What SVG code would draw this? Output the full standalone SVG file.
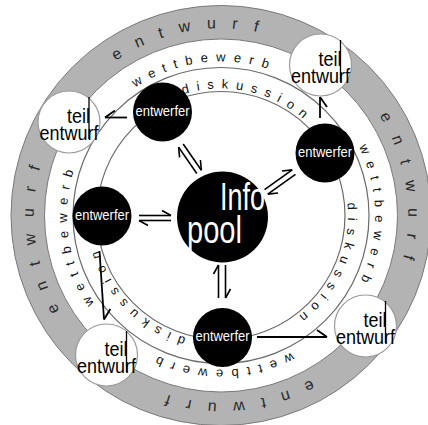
<svg xmlns="http://www.w3.org/2000/svg" width="428" height="425" viewBox="0 0 428 425">
<style>
.ring{font-family:"Liberation Sans",Arial,sans-serif;fill:#111}
.ew{font-size:16px;letter-spacing:16px;fill:#2a2a2a}
.wb{font-size:13px;letter-spacing:8px}
.dk{font-size:13px;letter-spacing:7.5px}
.line{fill:none;stroke:#6a6a6a;stroke-width:1.2}
.ent circle{fill:#000}
.ent text{font-family:"Liberation Sans",Arial,sans-serif;font-size:14px;fill:#fff;text-anchor:middle}
.teil circle{fill:#fff;stroke:#9a9a9a;stroke-width:1.2}
.teil text{font-family:"Liberation Sans",Arial,sans-serif;font-size:20px;fill:#000}
.teil line{stroke:#000;stroke-width:1.3}
.pair{fill:none;stroke:#000;stroke-width:1.6;marker-end:url(#hl)}
.single{fill:none;stroke:#000;stroke-width:1.8}
</style>
<defs>
<path id="pE" d="M408,215.5 A187,187 0 0 1 34,215.5 A187,187 0 0 1 408,215.5 A187,187 0 0 1 34,215.5 A187,187 0 0 1 408,215.5"/>
<path id="pW" d="M375,215.5 A154,154 0 0 1 67,215.5 A154,154 0 0 1 375,215.5 A154,154 0 0 1 67,215.5 A154,154 0 0 1 375,215.5"/>
<path id="pD" d="M348,215.5 A127,127 0 0 1 94,215.5 A127,127 0 0 1 348,215.5 A127,127 0 0 1 94,215.5 A127,127 0 0 1 348,215.5"/>
<marker id="hl" markerUnits="userSpaceOnUse" orient="auto" overflow="visible" markerWidth="1" markerHeight="1"><path d="M0,0 L-9,-5" fill="none" stroke="#000" stroke-width="1.6"/></marker>
<marker id="sl" markerUnits="userSpaceOnUse" orient="auto" overflow="visible" markerWidth="1" markerHeight="1"><path d="M0,0 L-10,-7" fill="none" stroke="#000" stroke-width="1.8"/></marker>
<marker id="sr" markerUnits="userSpaceOnUse" orient="auto" overflow="visible" markerWidth="1" markerHeight="1"><path d="M0,0 L-10,7" fill="none" stroke="#000" stroke-width="1.8"/></marker>
</defs>
<g id="rings">
<circle cx="221" cy="215.5" r="210" fill="#b3b3b3" stroke="#7a7a7a" stroke-width="1"/>
<circle cx="221" cy="215.5" r="176.5" fill="#fff" stroke="#7a7a7a" stroke-width="1"/>
<circle class="line" cx="221" cy="215.5" r="148"/>
<circle class="line" cx="221" cy="215.5" r="124"/>
<text class="ring ew"><textPath href="#pE" startOffset="768.9">entwurf</textPath></text>
<text class="ring ew"><textPath href="#pE" startOffset="1069.2">entwurf</textPath></text>
<text class="ring ew"><textPath href="#pE" startOffset="199.7">entwurf</textPath></text>
<text class="ring ew"><textPath href="#pE" startOffset="487.6">entwurf</textPath></text>
<text class="ring wb"><textPath href="#pW" startOffset="634.2">wettbewerb</textPath></text>
<text class="ring wb"><textPath href="#pW" startOffset="895.7">wettbewerb</textPath></text>
<text class="ring wb"><textPath href="#pW" startOffset="168.4">wettbewerb</textPath></text>
<text class="ring wb"><textPath href="#pW" startOffset="390.1">wettbewerb</textPath></text>
<text class="ring dk"><textPath href="#pD" startOffset="559.4">diskussion</textPath></text>
<text class="ring dk"><textPath href="#pD" startOffset="784.8">diskussion</textPath></text>
<text class="ring dk"><textPath href="#pD" startOffset="234.9">diskussion</textPath></text>
</g>
<g id="connectors">
<path class="pair" d="M183.2,143.95 L201.4,170.25"/>
<path class="pair" d="M196.8,173.45 L178.6,147.15"/>
<path class="pair" d="M295.47,174.4 L267.79,194.16"/>
<path class="pair" d="M264.53,189.6 L292.21,169.84"/>
<path class="pair" d="M139,215.5 L171,215.5"/>
<path class="pair" d="M171,220.5 L139,220.5"/>
<path class="pair" d="M218.5,298 L218.5,265"/>
<path class="pair" d="M225.5,265 L225.5,298"/>
<path class="single" d="M127,117.5 L105,117.5" marker-end="url(#sr)"/>
<path class="single" d="M320,118 L320,97" marker-end="url(#sr)"/>
<path class="single" d="M99.5,251 L104,319.5" marker-end="url(#sl)"/>
<path class="single" d="M257,337 L327,337" marker-end="url(#sl)"/>
</g>
<g id="teil-a" class="teil">
<circle cx="69" cy="122" r="31"/>
<text x="67" y="123" textLength="23" lengthAdjust="spacingAndGlyphs">teil</text>
<text x="39.5" y="139.5" textLength="59" lengthAdjust="spacingAndGlyphs">entwurf</text>
<line x1="89" y1="97" x2="89" y2="139"/>
</g>
<g id="teil-b" class="teil">
<circle cx="320.5" cy="65" r="31"/>
<text x="318.5" y="66" textLength="23" lengthAdjust="spacingAndGlyphs">teil</text>
<text x="291" y="82.5" textLength="59" lengthAdjust="spacingAndGlyphs">entwurf</text>
<line x1="340.5" y1="40" x2="340.5" y2="82"/>
</g>
<g id="teil-c" class="teil">
<circle cx="106.5" cy="355" r="31"/>
<text x="104.5" y="356" textLength="23" lengthAdjust="spacingAndGlyphs">teil</text>
<text x="77" y="372.5" textLength="59" lengthAdjust="spacingAndGlyphs">entwurf</text>
<line x1="126.5" y1="331" x2="126.5" y2="372"/>
</g>
<g id="teil-d" class="teil">
<circle cx="365.5" cy="326" r="31"/>
<text x="363.5" y="327" textLength="23" lengthAdjust="spacingAndGlyphs">teil</text>
<text x="336" y="343.5" textLength="59" lengthAdjust="spacingAndGlyphs">entwurf</text>
<line x1="385.5" y1="301" x2="385.5" y2="343"/>
</g>
<g id="entwerfer-1" class="ent">
<circle cx="162.5" cy="112" r="29.5"/>
<text x="162.5" y="116" textLength="54" lengthAdjust="spacingAndGlyphs">entwerfer</text>
</g>
<g id="entwerfer-2" class="ent">
<circle cx="325" cy="153" r="29.5"/>
<text x="325" y="157" textLength="54" lengthAdjust="spacingAndGlyphs">entwerfer</text>
</g>
<g id="entwerfer-3" class="ent">
<circle cx="102" cy="216" r="29.5"/>
<text x="102" y="220" textLength="54" lengthAdjust="spacingAndGlyphs">entwerfer</text>
</g>
<g id="entwerfer-4" class="ent">
<circle cx="222.5" cy="337.5" r="29.5"/>
<text x="222.5" y="341" textLength="54" lengthAdjust="spacingAndGlyphs">entwerfer</text>
</g>
<g id="infopool">
<circle cx="222.5" cy="217" r="45.5" fill="#000"/>
<text x="220" y="210" font-family="Liberation Sans, Arial, sans-serif" font-size="38" fill="#fff" textLength="45" lengthAdjust="spacingAndGlyphs">Info</text>
<text x="187" y="243" font-family="Liberation Sans, Arial, sans-serif" font-size="38" fill="#fff" textLength="55" lengthAdjust="spacingAndGlyphs">pool</text>
</g>
</svg>
